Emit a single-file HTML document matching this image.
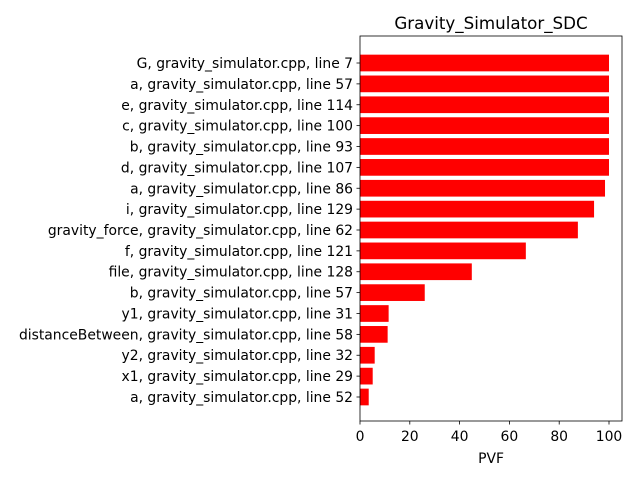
<!DOCTYPE html>
<html><head><meta charset="utf-8"><style>body{margin:0;background:#fff}svg{font-family:"DejaVu Sans","Liberation Sans",sans-serif}</style></head>
<body>
<svg id="c" width="640" height="480" xmlns="http://www.w3.org/2000/svg"></svg>
<script>
const labels=["a, gravity_simulator.cpp, line 52","x1, gravity_simulator.cpp, line 29","y2, gravity_simulator.cpp, line 32","distanceBetween, gravity_simulator.cpp, line 58","y1, gravity_simulator.cpp, line 31","b, gravity_simulator.cpp, line 57","file, gravity_simulator.cpp, line 128","f, gravity_simulator.cpp, line 121","gravity_force, gravity_simulator.cpp, line 62","i, gravity_simulator.cpp, line 129","a, gravity_simulator.cpp, line 86","d, gravity_simulator.cpp, line 107","b, gravity_simulator.cpp, line 93","c, gravity_simulator.cpp, line 100","e, gravity_simulator.cpp, line 114","a, gravity_simulator.cpp, line 57","G, gravity_simulator.cpp, line 7"];
const values=[3.5,5.1,5.9,11.1,11.5,26,44.9,66.6,87.5,94,98.4,100,100,100,100,100,100];
const xticks=[0,20,40,60,80,100];
const svg=document.getElementById('c');const NS="http://www.w3.org/2000/svg";
const L=360,R=622,T=39,B=421;
const xs=v=>L+v*(609-360)/100;
const ymin=-1.15,ymax=values.length-1+1.15;
const ys=v=>B-(v-ymin)*(B-T)/(ymax-ymin);
const bh=0.8*(B-T)/(ymax-ymin);
function mk(t,a,txt){const e=document.createElementNS(NS,t);for(const k in a)e.setAttribute(k,a[k]);if(txt!=null)e.textContent=txt;svg.appendChild(e);return e;}
values.forEach((v,i)=>{
 const r=mk('rect',{x:xs(0),y:ys(i)-bh/2,width:xs(v)-xs(0),height:bh,fill:'#ff0000'});
 
 
 mk('line',{x1:L-3.5,x2:L,y1:ys(i),y2:ys(i),stroke:'#000','stroke-width':0.8});
 const t=mk('text',{x:L-7,y:ys(i)+5,'font-size':13.9,'text-anchor':'end'},labels[i]);
 
 
});
xticks.forEach(v=>{
 mk('line',{x1:xs(v),x2:xs(v),y1:B,y2:B+3.5,stroke:'#000','stroke-width':0.8});
 const t=mk('text',{x:xs(v),y:B+20,'font-size':13.9,'text-anchor':'middle'},v);
 
 
});
const f=mk('rect',{x:L,y:T-3,width:R-L,height:B-T+3,fill:'none',stroke:'#000','stroke-width':0.8});


const xt=mk('text',{x:(L+R)/2,y:463,'font-size':13.9,'text-anchor':'middle'},'PVF');


const tt=mk('text',{x:(L+R)/2,y:29,'font-size':16.7,'text-anchor':'middle'},'Gravity_Simulator_SDC');


</script>
</body></html>
